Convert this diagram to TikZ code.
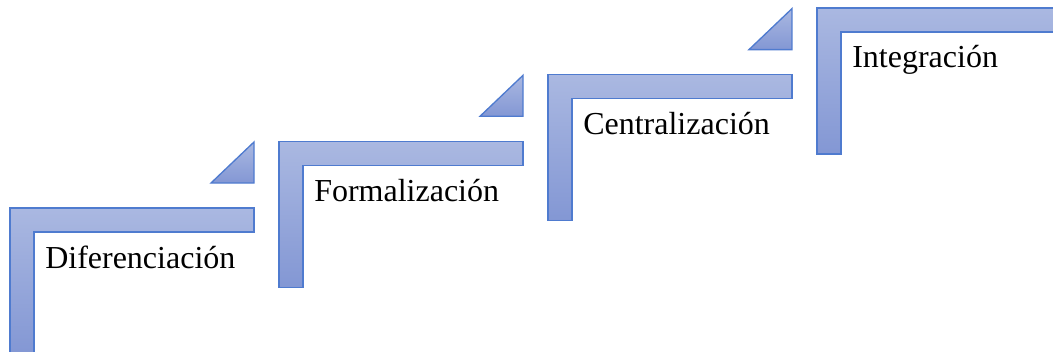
\documentclass[tikz,border=0pt]{standalone}
\usepackage{fontspec}
\setmainfont{Liberation Serif}
\definecolor{stepline}{HTML}{4F7BCF}
\definecolor{steptop}{HTML}{AAB8E1}
\definecolor{stepbot}{HTML}{8397D4}
\begin{document}
\begin{tikzpicture}[x=0.75pt,y=-0.75pt,
    stepshape/.style={draw=stepline,line width=1pt,line join=miter,top color=steptop,bottom color=stepbot},
    steplabel/.style={anchor=base west,inner sep=0pt,font=\fontsize{24}{28}\selectfont}]
  \clip (0,0) rectangle (1053,351);

  \foreach \i/\name/\txt in {0/dif/Diferenciación,1/form/Formalización,2/cent/Centralización,3/integ/Integración} {
    \pgfmathsetmacro\xa{10+269*\i}
    \pgfmathsetmacro\ya{208-66.7*\i}
    \draw[stepshape] (\xa,\ya) -- ++(244,0) -- ++(0,24) -- ++(-220,0) -- ++(0,122) -- ++(-24,0) -- cycle;
    \ifnum\i<3
      \draw[stepshape] (\xa+244,\ya-66) -- ++(0,41) -- ++(-43,0) -- cycle;
    \fi
    \node[steplabel] (\name) at (\xa+35,\ya+60) {\txt};
  }
\end{tikzpicture}
\end{document}
